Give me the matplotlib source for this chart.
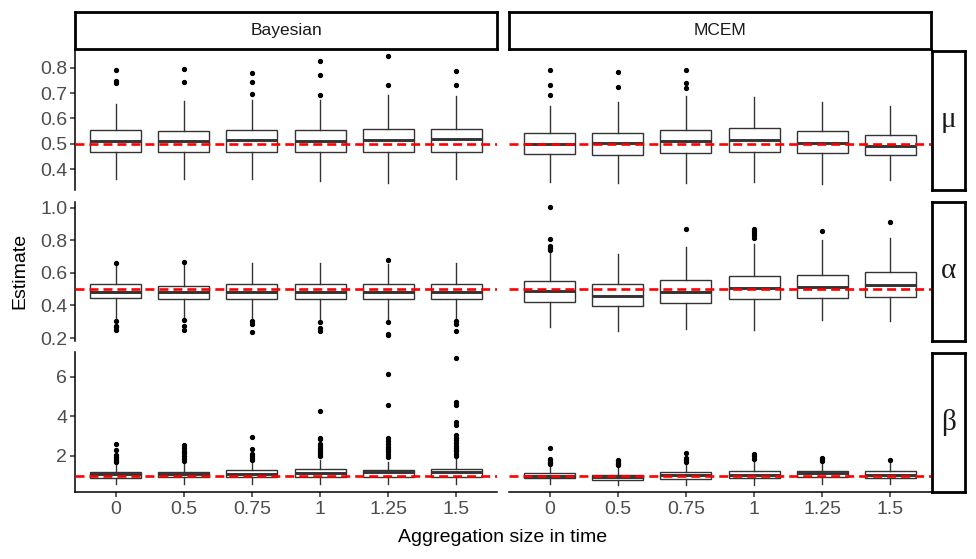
import matplotlib
matplotlib.use("Agg")
import matplotlib.pyplot as plt

# ---------------- data ----------------
categories = ["0", "0.5", "0.75", "1", "1.25", "1.5"]
methods = ["Bayesian", "MCEM"]
params = ["μ", "α", "β"]
true_values = [0.5, 0.5, 1.0]

# mu - Bayesian
mu_bayes_q1 = [0.467, 0.467, 0.467, 0.467, 0.467, 0.467]
mu_bayes_med = [0.513, 0.513, 0.517, 0.513, 0.517, 0.521]
mu_bayes_q3 = [0.554, 0.550, 0.554, 0.554, 0.558, 0.558]
mu_bayes_lo = [0.361, 0.361, 0.361, 0.356, 0.348, 0.361]
mu_bayes_hi = [0.657, 0.669, 0.673, 0.673, 0.694, 0.689]
mu_bayes_out = [[0.792, 0.748, 0.741], [0.796, 0.744], [0.777, 0.744, 0.698],
                [0.827, 0.771, 0.694], [0.846, 0.730], [0.787, 0.733]]
# mu - MCEM
mu_mcem_q1 = [0.459, 0.455, 0.463, 0.467, 0.463, 0.455]
mu_mcem_med = [0.500, 0.505, 0.513, 0.517, 0.505, 0.490]
mu_mcem_q3 = [0.542, 0.542, 0.554, 0.562, 0.550, 0.534]
mu_mcem_lo = [0.352, 0.348, 0.348, 0.352, 0.344, 0.360]
mu_mcem_hi = [0.650, 0.665, 0.689, 0.685, 0.665, 0.650]
mu_mcem_out = [[0.792, 0.730, 0.694], [0.783, 0.724], [0.792, 0.741, 0.720], [], [], []]

# alpha - Bayesian
alpha_bayes_q1 = [0.443, 0.437, 0.437, 0.437, 0.437, 0.437]
alpha_bayes_med = [0.484, 0.484, 0.484, 0.484, 0.484, 0.484]
alpha_bayes_q3 = [0.529, 0.522, 0.529, 0.529, 0.529, 0.529]
alpha_bayes_lo = [0.316, 0.316, 0.316, 0.316, 0.310, 0.316]
alpha_bayes_hi = [0.655, 0.652, 0.661, 0.661, 0.655, 0.661]
alpha_bayes_out = [[0.661, 0.304, 0.273, 0.265, 0.249], [0.667, 0.310, 0.273, 0.249],
                   [0.304, 0.286, 0.239], [0.298, 0.259, 0.245],
                   [0.676, 0.298, 0.224, 0.216], [0.304, 0.286, 0.245]]
# alpha - MCEM
alpha_mcem_q1 = [0.424, 0.396, 0.412, 0.437, 0.443, 0.449]
alpha_mcem_med = [0.490, 0.459, 0.484, 0.508, 0.514, 0.527]
alpha_mcem_q3 = [0.547, 0.529, 0.553, 0.578, 0.584, 0.602]
alpha_mcem_lo = [0.265, 0.241, 0.253, 0.247, 0.312, 0.306]
alpha_mcem_hi = [0.729, 0.718, 0.757, 0.776, 0.800, 0.812]
alpha_mcem_out = [[1.002, 0.808, 0.765, 0.750, 0.739], [], [0.869],
                  [0.871, 0.857, 0.843, 0.829, 0.815], [0.857], [0.912]]

# beta - Bayesian
beta_bayes_q1 = [0.88, 0.92, 0.92, 0.92, 0.92, 0.92]
beta_bayes_med = [1.10, 1.10, 1.10, 1.12, 1.17, 1.17]
beta_bayes_q3 = [1.20, 1.20, 1.27, 1.32, 1.27, 1.32]
beta_bayes_lo = [0.56, 0.60, 0.56, 0.56, 0.56, 0.56]
beta_bayes_hi = [1.59, 1.59, 1.71, 1.79, 1.71, 1.88]
beta_bayes_out = [[2.60, 2.30, 2.05, 1.95, 1.84, 1.74, 1.68],
                  [2.55, 2.42, 2.25, 2.13, 1.98, 1.84, 1.76],
                  [2.97, 2.35, 2.08, 2.00, 1.91, 1.81],
                  [4.27, 2.92, 2.84, 2.62, 2.52, 2.38, 2.28, 2.18, 2.08, 1.98],
                  [6.15, 4.58, 2.89, 2.76, 2.62, 2.47, 2.35, 2.22, 2.08, 1.96],
                  [6.96, 4.75, 4.58, 3.73, 3.57, 3.06, 2.92, 2.79, 2.65, 2.52,
                   2.42, 2.32, 2.22, 2.11, 2.00]]
# beta - MCEM
beta_mcem_q1 = [0.865, 0.80, 0.81, 0.86, 0.92, 0.86]
beta_mcem_med = [1.00, 0.95, 1.05, 1.05, 1.12, 1.05]
beta_mcem_q3 = [1.135, 1.05, 1.19, 1.24, 1.24, 1.24]
beta_mcem_lo = [0.56, 0.51, 0.51, 0.54, 0.56, 0.56]
beta_mcem_hi = [1.51, 1.46, 1.66, 1.71, 1.62, 1.62]
beta_mcem_out = [[2.42, 1.84, 1.77, 1.71, 1.64, 1.59],
                 [1.79, 1.73, 1.66, 1.59, 1.52],
                 [2.13, 1.88, 1.81, 1.71],
                 [2.10, 2.01, 1.84],
                 [1.89, 1.84, 1.76],
                 [1.81]]

y_limits = [(0.319, 0.867), (0.182, 1.037), (0.17, 7.23)]
y_ticks = [[0.4, 0.5, 0.6, 0.7, 0.8], [0.2, 0.4, 0.6, 0.8, 1.0], [2, 4, 6]]
y_ticklabels = [["0.4", "0.5", "0.6", "0.7", "0.8"],
                ["0.2", "0.4", "0.6", "0.8", "1.0"], ["2", "4", "6"]]

summary = {
    (0, 0): (mu_bayes_q1, mu_bayes_med, mu_bayes_q3, mu_bayes_lo, mu_bayes_hi, mu_bayes_out),
    (0, 1): (mu_mcem_q1, mu_mcem_med, mu_mcem_q3, mu_mcem_lo, mu_mcem_hi, mu_mcem_out),
    (1, 0): (alpha_bayes_q1, alpha_bayes_med, alpha_bayes_q3, alpha_bayes_lo, alpha_bayes_hi, alpha_bayes_out),
    (1, 1): (alpha_mcem_q1, alpha_mcem_med, alpha_mcem_q3, alpha_mcem_lo, alpha_mcem_hi, alpha_mcem_out),
    (2, 0): (beta_bayes_q1, beta_bayes_med, beta_bayes_q3, beta_bayes_lo, beta_bayes_hi, beta_bayes_out),
    (2, 1): (beta_mcem_q1, beta_mcem_med, beta_mcem_q3, beta_mcem_lo, beta_mcem_hi, beta_mcem_out),
}

# ---------------- layout (pixels) ----------------
W, H = 976, 559
fig = plt.figure(figsize=(W / 100, H / 100), dpi=100)
plt.rcParams['font.family'] = ['Liberation Sans', 'DejaVu Sans']

col_x = [(75, 497), (509, 931)]
row_y = [(50.5, 190), (201.5, 341), (352.5, 492)]
strip_top = (12, 49)
strip_right = (932, 965)

def fx(x):
    return x / W

def fy(y):
    return 1 - y / H

tick_col = "#333333"
lab_col = "#4D4D4D"

for r in range(3):
    for c in range(2):
        x0, x1 = col_x[c]
        y0, y1 = row_y[r]
        ax = fig.add_axes([fx(x0), fy(y1), fx(x1) - fx(x0), fy(y0) - fy(y1)])
        q1, med, q3, lo, hi, out = summary[(r, c)]
        stats = []
        for i in range(len(categories)):
            stats.append(dict(q1=q1[i], med=med[i], q3=q3[i], whislo=lo[i],
                              whishi=hi[i], fliers=out[i], label=categories[i]))
        ax.bxp(stats, positions=list(range(1, 7)), widths=0.75, patch_artist=True,
               showcaps=False,
               boxprops=dict(facecolor="white", edgecolor="#333333", linewidth=1.0),
               whiskerprops=dict(color="#333333", linewidth=1.0),
               medianprops=dict(color="#333333", linewidth=2.1),
               flierprops=dict(marker="o", markerfacecolor="black",
                               markeredgecolor="black", markersize=2.8, linestyle="none"),
               zorder=2)
        ax.axhline(true_values[r], color="red", linestyle=(0, (3.4, 1.9)),
                   linewidth=1.9, zorder=3)
        ax.set_xlim(0.4, 6.6)
        ax.set_ylim(*y_limits[r])
        for s in ["top", "right"]:
            ax.spines[s].set_visible(False)
        ax.patch.set_alpha(0)
        # y axis
        if c == 0:
            ax.spines["left"].set_linewidth(1.1)
            ax.spines["left"].set_color("black")
            ax.set_yticks(y_ticks[r])
            ax.set_yticklabels(y_ticklabels[r])
            ax.tick_params(axis="y", length=3.5, width=1.1, color=tick_col,
                           labelcolor=lab_col, labelsize=14, pad=2)
        else:
            ax.spines["left"].set_visible(False)
            ax.set_yticks([])
        # x axis
        if r == 2:
            ax.spines["bottom"].set_linewidth(1.1)
            ax.spines["bottom"].set_color("black")
            ax.set_xticks(range(1, 7))
            ax.set_xticklabels(categories)
            ax.tick_params(axis="x", length=3.5, width=1.1, color=tick_col,
                           labelcolor=lab_col, labelsize=14, pad=3)
        else:
            ax.spines["bottom"].set_visible(False)
            ax.set_xticks([])

# top strips
for c in range(2):
    x0, x1 = col_x[c]
    y0, y1 = strip_top
    sax = fig.add_axes([fx(x0), fy(y1), fx(x1) - fx(x0), fy(y0) - fy(y1)])
    sax.set_xticks([]); sax.set_yticks([])
    for s in sax.spines.values():
        s.set_linewidth(2.0)
        s.set_color("black")
    sax.text(0.5, 0.5, methods[c], ha="center", va="center", fontsize=12.5,
             color="#1A1A1A", transform=sax.transAxes)

# right strips
for r in range(3):
    x0, x1 = strip_right
    y0, y1 = row_y[r]
    sax = fig.add_axes([fx(x0), fy(y1), fx(x1) - fx(x0), fy(y0) - fy(y1)])
    sax.set_xticks([]); sax.set_yticks([])
    for s in sax.spines.values():
        s.set_linewidth(2.0)
        s.set_color("black")
    sax.text(0.5, 0.5, params[r], ha="center", va="center", fontsize=21,
             color="#1A1A1A", family=["Liberation Serif", "DejaVu Serif"],
             transform=sax.transAxes)

# axis titles
fig.text(fx((col_x[0][0] + col_x[1][1]) / 2), fy(538), "Aggregation size in time",
         ha="center", va="center", fontsize=14, color="black")
fig.text(fx(20), fy((row_y[0][0] + row_y[2][1]) / 2), "Estimate", rotation=90,
         ha="center", va="center", fontsize=14, color="black")

fig.savefig("out.png", dpi=100, facecolor="white")
